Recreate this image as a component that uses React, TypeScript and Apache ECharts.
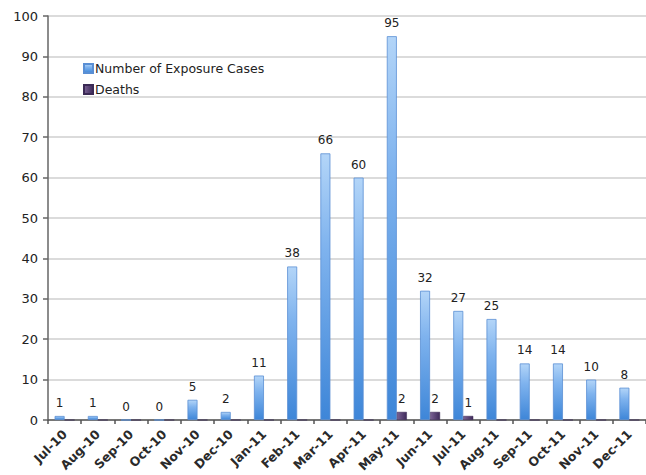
import React, { useEffect, useRef } from "react";
import * as echarts from "echarts";

const categories = ["Jul-10","Aug-10","Sep-10","Oct-10","Nov-10","Dec-10","Jan-11","Feb-11","Mar-11","Apr-11","May-11","Jun-11","Jul-11","Aug-11","Sep-11","Oct-11","Nov-11","Dec-11"];
const exposureCases = [1,1,0,0,5,2,11,38,66,60,95,32,27,25,14,14,10,8];
const deaths = [0,0,0,0,0,0,0,0,0,0,2,2,1,0,0,0,0,0];
const seriesNames = ["Number of Exposure Cases", "Deaths"];

const FONT = "'DejaVu Sans', sans-serif";

export default function App() {
  const ref = useRef<HTMLDivElement>(null);
  useEffect(() => {
    document.body.style.margin = "0";
    const chart = echarts.init(ref.current!, null, { renderer: "svg" });
    chart.setOption({
      animation: false,
      backgroundColor: "#ffffff",
      grid: { left: 48, right: 0, top: 16, bottom: 55, containLabel: false, outerBoundsMode: "none" },
      legend: {
        orient: "vertical",
        left: 78,
        top: 57,
        itemWidth: 9,
        itemHeight: 9,
        itemGap: 8,
        icon: "rect",
        textStyle: { fontFamily: FONT, fontSize: 12.5, color: "#222", padding: [0, 0, 0, -3] },
        data: seriesNames,
      },
      xAxis: {
        type: "category",
        data: categories,
        axisLine: { lineStyle: { color: "#555", width: 1.5 } },
        axisTick: { show: true, alignWithLabel: false, length: 4, lineStyle: { color: "#555", width: 1.5 } },
        axisLabel: {
          rotate: 45,
          interval: 0,
          fontFamily: FONT,
          fontSize: 12.5,
          fontWeight: "bold",
          color: "#2a2a2a",
          margin: 12,
        },
      },
      yAxis: {
        type: "value",
        min: 0,
        max: 100,
        interval: 10,
        axisLine: { show: true, lineStyle: { color: "#666", width: 1.5 } },
        axisTick: { show: true, length: 5, lineStyle: { color: "#666", width: 1.5 } },
        axisLabel: { fontFamily: FONT, fontSize: 13, color: "#222", margin: 10 },
        splitLine: { lineStyle: { color: "#cfcfcf", width: 1.5 } },
      },
      series: [
        {
          name: seriesNames[0],
          type: "bar",
          data: exposureCases,
          barWidth: 10,
          barGap: "0%",
          itemStyle: {
            color: new echarts.graphic.LinearGradient(0, 0, 0, 1, [
              { offset: 0, color: "#b3d5f8" },
              { offset: 0.35, color: "#7fb3ee" },
              { offset: 1, color: "#3e86d8" },
            ]),
            borderColor: "#5a8fd4",
            borderWidth: 0.8,
          },
          label: {
            show: true,
            position: "top",
            distance: 7,
            fontFamily: FONT,
            fontSize: 12,
            color: "#222",
          },
        },
        {
          name: seriesNames[1],
          type: "bar",
          data: deaths,
          barWidth: 10,
          itemStyle: {
            color: new echarts.graphic.LinearGradient(0, 0, 1, 0, [
              { offset: 0, color: "#7a6294" },
              { offset: 1, color: "#3e2a5a" },
            ]),
            borderColor: "#3b2a55",
            borderWidth: 0.5,
          },
          label: {
            show: true,
            position: "top",
            distance: 7,
            fontFamily: FONT,
            fontSize: 12,
            color: "#222",
            formatter: (p: any) => (p.value > 0 ? String(p.value) : ""),
          },
        },
      ],
    });
    return () => chart.dispose();
  }, []);
  return <div ref={ref} style={{ width: 646, height: 475 }} />;
}
